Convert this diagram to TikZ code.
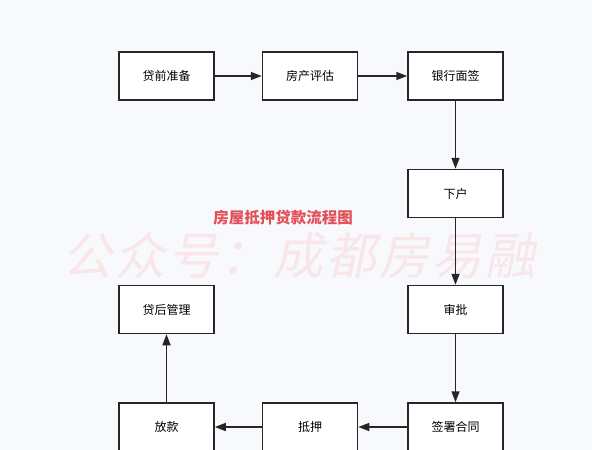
\documentclass[tikz,border=0pt]{standalone}
\usepackage{fontspec}
\usepackage{tikz}
\usetikzlibrary{arrows.meta}
\newfontfamily\cjk{Noto Sans CJK SC}
\newfontfamily\cjkslant[FakeSlant=0.2, LetterSpace=6]{Noto Sans CJK SC}
\definecolor{bgcol}{HTML}{F8F9FC}
\definecolor{titlered}{HTML}{E4505A}
\definecolor{markpink}{HTML}{F9E6E8}

\begin{document}
\begin{tikzpicture}[x=1pt, y=-1pt,
  stepbox/.style={draw=black!85, line width=1.5pt, fill=white, minimum width=95pt, minimum height=48pt, font=\cjk\fontsize{12}{14}\selectfont},
  flow/.style={-{Triangle[length=11pt,width=8pt]}, line width=1.5pt, draw=black!85}]
\fill[bgcol] (0,0) rectangle (592,450);
\useasboundingbox (0,0) rectangle (592,450);
\begin{scope}
\clip (0,0) rectangle (592,450);
% watermark and title
\node (mark) at (299,256) {\cjkslant\fontsize{50}{54}\selectfont\color{markpink}公众号：成都房易融};
\node (title) at (283,218) {\cjk\bfseries\fontsize{15.5}{17}\selectfont\color{titlered}房屋抵押贷款流程图};
% top row
\node[stepbox] (prep) at (166.5,76) {贷前准备};
\node[stepbox] (eval) at (310,76) {房产评估};
\node[stepbox] (sign) at (455.5,76) {银行面签};
% right column
\node[stepbox] (visit) at (455.5,193.5) {下户};
\node[stepbox] (check) at (455.5,309.5) {审批};
% bottom row
\node[stepbox] (contract) at (455.5,427) {签署合同};
\node[stepbox] (pledge) at (310,427) {抵押};
\node[stepbox] (loan) at (166.5,427) {放款};
% left column
\node[stepbox] (after) at (166.5,309.5) {贷后管理};
\draw[flow] (prep) -- (eval);
\draw[flow] (eval) -- (sign);
\draw[flow] (sign) -- (visit);
\draw[flow] (visit) -- (check);
\draw[flow] (check) -- (contract);
\draw[flow] (contract) -- (pledge);
\draw[flow] (pledge) -- (loan);
\draw[flow] (loan) -- (after);
\end{scope}
\end{tikzpicture}
\end{document}
